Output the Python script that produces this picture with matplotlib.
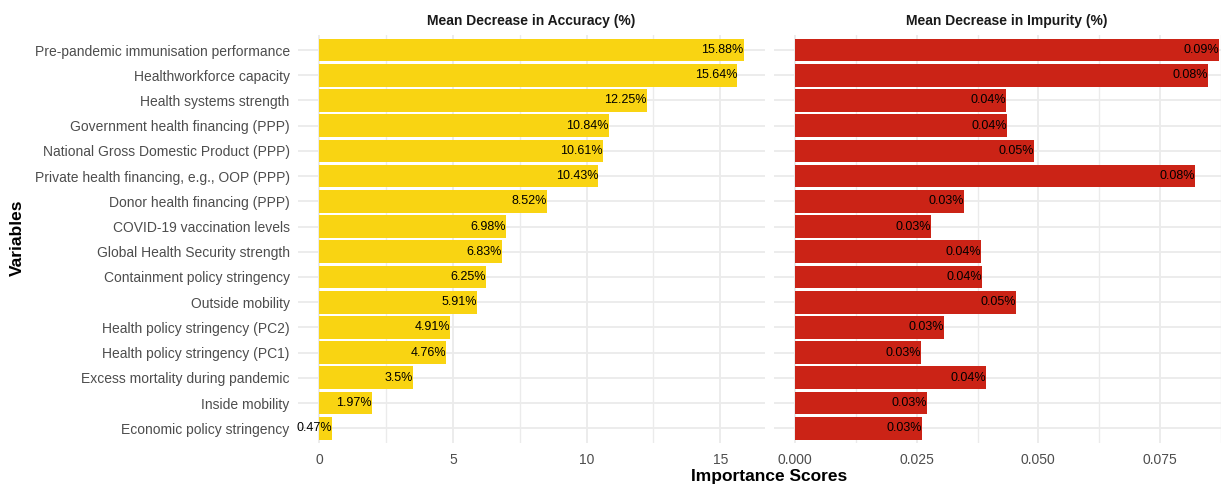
import matplotlib
matplotlib.use("Agg")
import matplotlib.pyplot as plt
from matplotlib.ticker import MultipleLocator, FixedLocator

plt.rcParams['font.family'] = ['Liberation Sans', 'DejaVu Sans']

variables = [
    "Pre-pandemic immunisation performance",
    "Healthworkforce capacity",
    "Health systems strength",
    "Government health financing (PPP)",
    "National Gross Domestic Product (PPP)",
    "Private health financing, e.g., OOP (PPP)",
    "Donor health financing (PPP)",
    "COVID-19 vaccination levels",
    "Global Health Security strength",
    "Containment policy stringency",
    "Outside mobility",
    "Health policy stringency (PC2)",
    "Health policy stringency (PC1)",
    "Excess mortality during pandemic",
    "Inside mobility",
    "Economic policy stringency",
]
accuracy = [15.88, 15.64, 12.25, 10.84, 10.61, 10.43, 8.52, 6.98,
            6.83, 6.25, 5.91, 4.91, 4.76, 3.5, 1.97, 0.47]
impurity = [0.0871, 0.0848, 0.0433, 0.0435, 0.0492, 0.0822, 0.0348, 0.0279,
            0.0382, 0.0385, 0.0453, 0.0306, 0.0259, 0.0393, 0.0271, 0.0261]

yellow = '#F9D412'
red = '#CB2316'
grid_col = '#EBEBEB'
W, H = 1221, 484

fig = plt.figure(figsize=(W / 100, H / 100), dpi=100)
ax1 = fig.add_axes([298 / W, 1 - 443.4 / H, 467 / W, 408.5 / H])
ax2 = fig.add_axes([774 / W, 1 - 443.4 / H, 466 / W, 408.5 / H])

ypos = list(range(len(variables)))


def panel(ax, vals, color, title, major, minor):
    vmax = max(vals)
    ax.barh(ypos, vals, height=0.9, color=color, zorder=2)
    for y, v in zip(ypos, vals):
        ax.text(v, y, f"{round(v, 2)}%", ha='right', va='center',
                fontsize=9, color='black', zorder=3)
    ax.set_xlim(-0.05 * vmax, 1.05 * vmax)
    ax.set_ylim(len(vals) - 0.4, -0.6)
    ax.xaxis.set_major_locator(MultipleLocator(major))
    ax.xaxis.set_minor_locator(MultipleLocator(minor))
    ax.set_yticks(ypos)
    ax.grid(which='major', color=grid_col, lw=1.3, zorder=0)
    ax.grid(which='minor', axis='x', color=grid_col, lw=1.0, zorder=0)
    for s in ax.spines.values():
        s.set_visible(False)
    ax.tick_params(which='both', length=0, colors='#4D4D4D', labelsize=10)
    ax.tick_params(axis='x', pad=7)
    ax.tick_params(axis='y', pad=6)
    ax.set_title(title, fontsize=10, fontweight='bold', color='#1A1A1A', pad=7)


panel(ax1, accuracy, yellow, "Mean Decrease in Accuracy (%)", 5, 2.5)
ax1.set_yticklabels(variables)
ax1.set_xlim(-0.05 * max(accuracy), 1.05 * max(accuracy))

panel(ax2, impurity, red, "Mean Decrease in Impurity (%)", 0.025, 0.0125)
ax2.xaxis.set_major_locator(FixedLocator([0, 0.025, 0.05, 0.075]))
ax2.xaxis.set_major_formatter(plt.FuncFormatter(lambda v, p: f"{v:.3f}"))
ax2.set_yticklabels([])

fig.text(769 / W, 1 - 477 / H, "Importance Scores", ha='center', va='center',
         fontsize=12.5, fontweight='bold')
fig.text(17 / W, 1 - 238 / H, "Variables", ha='center', va='center',
         rotation=90, fontsize=12.5, fontweight='bold')

fig.savefig("out.png", dpi=100)
